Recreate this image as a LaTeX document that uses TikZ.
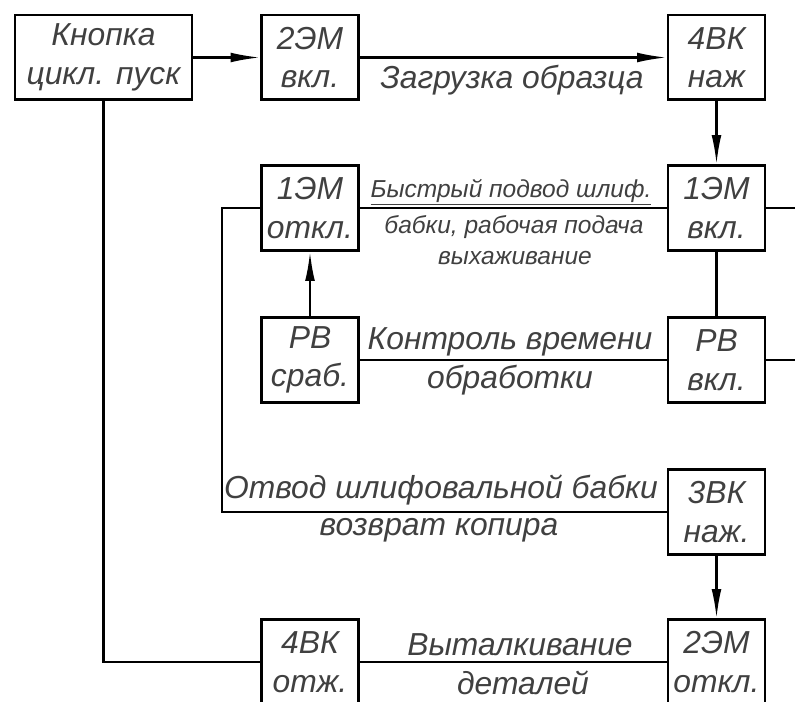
\documentclass[tikz,border=0pt]{standalone}
\usepackage{fontspec}
\setmainfont{Liberation Sans}
\usetikzlibrary{arrows.meta}
\begin{document}
\begin{tikzpicture}[
        x=0.0265cm,
        y=-0.0265cm,
        line width=1.7pt,
        font=\fontsize{24}{29}\selectfont\itshape
    ]
    \tikzset{
        blok/.style = {rectangle, draw=black, line width=1.9pt, align=center, inner sep=0pt, minimum width=2.58cm, minimum height=2.24cm, text=black!75},
        blokw/.style = {blok, minimum width=4.68cm},
        strel/.style = {-{Latex[length=0.78cm,width=0.26cm]}},
        linn/.style = {-},
        nadp/.style = {align=center, inner sep=0pt, text=black!75},
        nadpm/.style = {nadp, font=\fontsize{18.5}{22}\selectfont\itshape},
    }
    \useasboundingbox (0,0) rectangle (795,702);
    \node[blokw] at (103.5,57.5) (knopka) {Кнопка\\цикл. пуск};
    \node[blok] at (310,57.5) (em2on) {2ЭМ\\вкл.};
    \node[blok] at (716.5,57.5) (vk4on) {4ВК\\наж};
    \node[blok] at (310,208) (em1off) {1ЭМ\\откл.};
    \node[blok] at (716.5,208) (em1on) {1ЭМ\\вкл.};
    \node[blok] at (310,360) (rvoff) {РВ\\сраб.};
    \node[blok] at (716.5,360) (rvon) {РВ\\вкл.};
    \node[blok] at (716.5,512) (vk3) {3ВК\\наж.};
    \node[blok] at (310,662) (vk4off) {4ВК\\отж.};
    \node[blok] at (716.5,662) (em2off) {2ЭМ\\откл.};
    %
    \coordinate (r1) at (795,208);
    \coordinate (r2) at (795,360);
    \coordinate (c1) at (222,208);
    %
    \node[nadp] at (512,80) (t1) {Загрузка образца};
    \node[nadpm] at (511,192) (t2) {\underline{Быстрый подвод шлиф.}};
    \node[nadpm] at (514,227) (t3) {бабки, рабочая подача};
    \node[nadpm] at (515,258) (t4) {выхаживание};
    \node[nadp] at (510,342) (t5) {Контроль времени};
    \node[nadp] at (510,380) (t6) {обработки};
    \node[nadp] at (441,490) (t7) {Отвод шлифовальной бабки};
    \node[nadp] at (439,530) (t8) {возврат копира};
    \node[nadp] at (520,645) (t9) {Выталкивание};
    \node[nadp] at (523,683) (t10) {деталей};
    %
    \draw[strel] (knopka) -- (em2on);
    \draw[strel] (em2on) -- (vk4on);
    \draw[strel] (vk4on) -- (em1on);
    \draw[linn] (em1off) -- (em1on);
    \draw[linn] (em1on) -- (r1);
    \draw[linn] (em1on) -- (rvon);
    \draw[linn] (rvon) -- (r2);
    \draw[strel] (rvoff) -- (em1off);
    \draw[linn] (rvoff) -- (rvon);
    %
    \draw[linn] (em1off.west) -- (c1) |- (vk3.west);
    \draw[strel] (vk3) -- (em2off);
    \draw[linn] (em2off) -- (vk4off);
    \draw[linn] (vk4off.west) -| (knopka.south);
\end{tikzpicture}
\end{document}
